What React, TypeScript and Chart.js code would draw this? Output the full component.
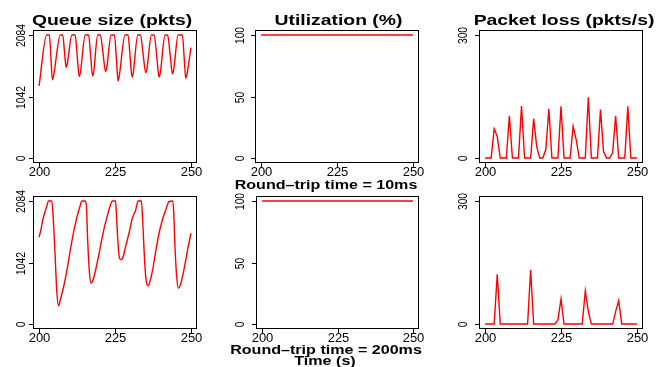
import React, { useEffect, useRef } from "react";
import { Chart, registerables } from "chart.js";

Chart.register(...registerables);

const W = 668;
const H = 367;

// ---------- data ----------
const X_TICKS = [200, 225, 250];
const Q_TICKS = [0, 1042, 2084];
const UTIL_TICKS = [0, 50, 100];
const LOSS_TICKS = [0, 300];

const SECONDS = [
  200, 201, 202, 203, 204, 205, 206, 207, 208, 209, 210, 211, 212, 213, 214, 215, 216,
  217, 218, 219, 220, 221, 222, 223, 224, 225, 226, 227, 228, 229, 230, 231, 232, 233,
  234, 235, 236, 237, 238, 239, 240, 241, 242, 243, 244, 245, 246, 247, 248, 249, 250,
];

// RTT = 10ms
const Q10_T = [
  200, 202.5, 203.4, 203.9, 204.4, 204.8, 207.0, 207.8, 208.4, 208.9, 209.3, 210.8,
  211.9, 212.6, 213.2, 213.6, 215.2, 216.3, 217.0, 217.6, 218.0, 219.3, 220.2, 221.1,
  221.9, 222.3, 223.7, 224.8, 225.5, 226.0, 226.4, 228.3, 229.3, 230.0, 230.6, 231.0,
  232.5, 233.4, 234.3, 235.1, 235.5, 237.0, 237.9, 238.8, 239.5, 239.9, 241.5, 242.3,
  243.2, 243.9, 244.3, 245.8, 247.2, 247.8, 248.3, 248.7, 250,
];
const Q10_V = [
  1222, 2084, 2084, 1700, 1324, 1400, 2084, 2084, 1780, 1538, 1600, 2084, 2084, 1700,
  1380, 1450, 2084, 2084, 1720, 1391, 1460, 2084, 2084, 1750, 1465, 1530, 2084, 2084,
  1650, 1307, 1390, 2084, 2084, 1700, 1369, 1440, 2084, 2084, 1740, 1448, 1510, 2084,
  2084, 1700, 1369, 1440, 2084, 2084, 1730, 1425, 1490, 2084, 2084, 1680, 1352, 1420,
  1870,
];
const UTIL10 = [
  100, 100, 100, 100, 100, 100, 100, 100, 100, 100, 100, 100, 100, 100, 100, 100, 100,
  100, 100, 100, 100, 100, 100, 100, 100, 100, 100, 100, 100, 100, 100, 100, 100, 100,
  100, 100, 100, 100, 100, 100, 100, 100, 100, 100, 100, 100, 100, 100, 100, 100, 100,
];
const LOSS10 = [
  0, 0, 0, 71, 53, 0, 0, 0, 103, 0, 0, 0, 127, 0, 0, 0, 96, 28, 0, 0, 20, 120, 0, 0, 0,
  126, 0, 0, 0, 77, 45, 0, 0, 0, 148, 0, 0, 0, 118, 16, 0, 0, 12, 103, 0, 0, 0, 126, 0,
  0, 0,
];

// RTT = 200ms
const Q200_T = [
  200, 200.6, 201.1, 201.8, 202.5, 203.1, 204.2, 204.7, 205.3, 205.8, 206.4, 207.0,
  208.1, 209.2, 210.3, 211.4, 212.5, 213.6, 214.1, 215.2, 215.6, 216.0, 216.6, 217.1,
  217.8, 219.1, 220.2, 221.3, 222.4, 223.5, 224.1, 225.2, 225.5, 226.0, 226.5, 227.1,
  227.7, 228.5, 229.6, 230.7, 231.8, 232.6, 233.7, 234.1, 234.8, 235.3, 235.9, 236.5,
  237.3, 238.4, 239.5, 240.6, 241.7, 242.8, 243.9, 244.3, 244.7, 245.3, 245.9, 246.7,
  247.8, 248.9, 250,
];
const Q200_V = [
  1469, 1593, 1734, 1875, 1987, 2084, 2084, 1762, 1143, 580, 310, 411, 636, 918, 1255,
  1565, 1818, 2016, 2084, 2084, 1987, 1424, 861, 692, 749, 1030, 1312, 1593, 1818, 2016,
  2084, 2084, 1818, 1368, 1115, 1087, 1143, 1312, 1537, 1790, 1931, 2084, 2084, 1762,
  1030, 721, 647, 721, 890, 1227, 1537, 1762, 1931, 2072, 2084, 1931, 1368, 805, 608,
  692, 946, 1255, 1537,
];
const UTIL200 = [
  100, 100, 100, 100, 100, 100, 100, 100, 100, 100, 100, 100, 100, 100, 100, 100, 100,
  100, 100, 100, 100, 100, 100, 100, 100, 100, 100, 100, 100, 100, 100, 100, 100, 100,
  100, 100, 100, 100, 100, 100, 100, 100, 100, 100, 100, 100, 100, 100, 100, 100, 100,
];
const LOSS200 = [
  0, 0, 0, 0, 121, 0, 0, 0, 0, 0, 0, 0, 0, 0, 0, 132, 0, 0, 0, 0, 0, 0, 0, 0, 10, 61, 0,
  0, 0, 0, 0, 0, 0, 81, 31, 0, 0, 0, 0, 0, 0, 0, 0, 31, 57, 0, 0, 0, 0, 0, 0,
];

const TITLES = ["Queue size (pkts)", "Utilization (%)", "Packet loss (pkts/s)"];
const ROW_LABELS = ["Round\u2013trip time = 10ms", "Round\u2013trip time = 200ms"];
const X_LABEL = "Time (s)";

// ---------- layout ----------
const FONT = '"Liberation Sans", Arial, Helvetica, sans-serif';
const RED = "#ff0000";

type Txt = { text: string; cx: number; base: number; size: number; sx: number };
type PanelCfg = {
  box: [number, number, number, number];
  xs: number[];
  ys: number[];
  yTicks: number[];
  yMax: number;
  yLabOff: number;
  smooth: boolean;
  texts: Txt[];
};

const PANELS: PanelCfg[] = [
  {
    box: [33, 30, 197, 163], xs: Q10_T, ys: Q10_V, yTicks: Q_TICKS, yMax: 2084, yLabOff: 8, smooth: true,
    texts: [{ text: TITLES[0], cx: 112, base: 24.5, size: 15, sx: 1.29 }],
  },
  {
    box: [255, 30, 419, 163], xs: SECONDS, ys: UTIL10, yTicks: UTIL_TICKS, yMax: 100, yLabOff: 11, smooth: false,
    texts: [
      { text: TITLES[1], cx: 338.5, base: 24.5, size: 15, sx: 1.29 },
      { text: ROW_LABELS[0], cx: 326, base: 189, size: 12, sx: 1.34 },
    ],
  },
  {
    box: [479, 30, 643, 163], xs: SECONDS, ys: LOSS10, yTicks: LOSS_TICKS, yMax: 300, yLabOff: 12.5, smooth: false,
    texts: [{ text: TITLES[2], cx: 564, base: 24.5, size: 15, sx: 1.29 }],
  },
  {
    box: [33, 196, 197, 329], xs: Q200_T, ys: Q200_V, yTicks: Q_TICKS, yMax: 2084, yLabOff: 8, smooth: true,
    texts: [],
  },
  {
    box: [256, 196, 419, 329], xs: SECONDS, ys: UTIL200, yTicks: UTIL_TICKS, yMax: 100, yLabOff: 12, smooth: false,
    texts: [
      { text: ROW_LABELS[1], cx: 326, base: 353.5, size: 12, sx: 1.34 },
      { text: X_LABEL, cx: 325, base: 364.5, size: 12, sx: 1.34 },
    ],
  },
  {
    box: [479, 196, 643, 329], xs: SECONDS, ys: LOSS200, yTicks: LOSS_TICKS, yMax: 300, yLabOff: 12.5, smooth: false,
    texts: [],
  },
];

function makeAxesPlugin(cfg: PanelCfg) {
  return {
    id: "rAxes",
    afterDraw(chart: any) {
      const { ctx, chartArea: a, scales } = chart;
      const xs = scales.x;
      const ys = scales.y;
      ctx.save();
      ctx.strokeStyle = "#000";
      ctx.fillStyle = "#000";
      ctx.lineWidth = 1;
      // box
      ctx.strokeRect(Math.round(a.left) + 0.5, Math.round(a.top) + 0.5,
        Math.round(a.right - a.left) - 1, Math.round(a.bottom - a.top) - 1);
      // x ticks
      ctx.font = `13px ${FONT}`;
      ctx.textAlign = "center";
      ctx.textBaseline = "alphabetic";
      for (const v of X_TICKS) {
        const px = Math.round(xs.getPixelForValue(v)) + 0.5;
        ctx.beginPath();
        ctx.moveTo(px, a.bottom);
        ctx.lineTo(px, a.bottom + 4);
        ctx.stroke();
        ctx.fillText(String(v), px, a.bottom + 13);
      }
      // y ticks
      for (const v of cfg.yTicks) {
        const py = Math.round(ys.getPixelForValue(v)) + 0.5;
        ctx.beginPath();
        ctx.moveTo(a.left - 4, py);
        ctx.lineTo(a.left, py);
        ctx.stroke();
        ctx.save();
        ctx.translate(a.left - cfg.yLabOff, py);
        ctx.rotate(-Math.PI / 2);
        ctx.scale(0.82, 1);
        ctx.font = `12.5px ${FONT}`;
        ctx.textAlign = "center";
        ctx.textBaseline = "alphabetic";
        ctx.fillText(String(v), 0, 0);
        ctx.restore();
      }
      // titles / labels
      for (const t of cfg.texts) {
        ctx.save();
        ctx.font = `bold ${t.size}px ${FONT}`;
        ctx.textAlign = "center";
        ctx.textBaseline = "alphabetic";
        ctx.translate(t.cx, t.base);
        ctx.scale(t.sx, 1);
        ctx.fillText(t.text, 0, 0);
        ctx.restore();
      }
      ctx.restore();
    },
  };
}

function Panel({ cfg }: { cfg: PanelCfg }) {
  const ref = useRef<HTMLCanvasElement>(null);
  useEffect(() => {
    const [l, t, r, b] = cfg.box;
    const pts = cfg.xs.map((x, i) => ({ x, y: cfg.ys[i] }));
    const chart = new Chart(ref.current as HTMLCanvasElement, {
      type: "line",
      data: {
        datasets: [
          {
            data: pts,
            borderColor: RED,
            borderWidth: 1.4,
            pointRadius: 0,
            fill: false,
            tension: 0,
            cubicInterpolationMode: cfg.smooth ? "monotone" : "default",
          } as any,
        ],
      },
      options: {
        responsive: false,
        animation: false,
        devicePixelRatio: 1,
        events: [],
        layout: { padding: { left: l, top: t, right: W - r, bottom: H - b } },
        plugins: { legend: { display: false }, tooltip: { enabled: false }, title: { display: false } },
        scales: {
          x: { type: "linear", min: 198, max: 252, display: false },
          y: { type: "linear", min: -0.04 * cfg.yMax, max: 1.04 * cfg.yMax, display: false },
        },
      },
      plugins: [makeAxesPlugin(cfg)],
    });
    return () => chart.destroy();
  }, [cfg]);
  return (
    <canvas
      ref={ref}
      width={W}
      height={H}
      style={{ position: "absolute", left: 0, top: 0, width: W, height: H }}
    />
  );
}

export default function App() {
  return (
    <div style={{ position: "absolute", left: 0, top: 0, width: W, height: H, background: "#fff", overflow: "hidden" }}>
      {PANELS.map((p, i) => (
        <Panel key={i} cfg={p} />
      ))}
    </div>
  );
}
